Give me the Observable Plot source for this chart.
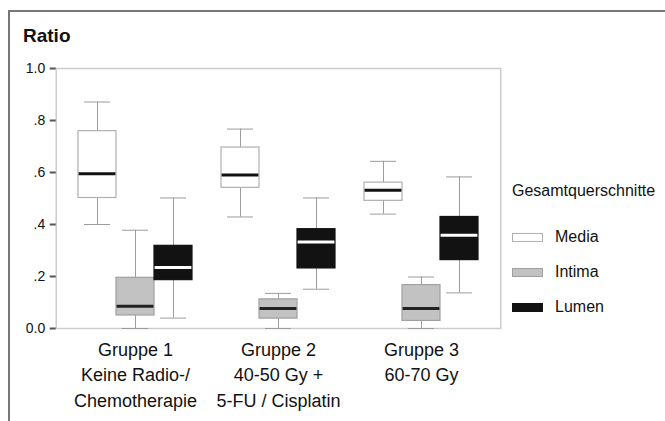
<!DOCTYPE html>
<html>
<head>
<meta charset="utf-8">
<script src="https://cdn.jsdelivr.net/npm/d3@7"></script>
<script src="https://cdn.jsdelivr.net/npm/@observablehq/plot@0.6"></script>
<style>
  body { margin: 0; background: #fff; }
  #wrap { position: relative; width: 665px; height: 421px; overflow: hidden; background: #fff;
          font-family: "Liberation Sans", Arial, sans-serif; color: #111; }
  #outer { position: absolute; left: 8px; top: 10px; right: -10px; bottom: -10px;
           border-top: 2px solid #777; border-left: 2px solid #777; }
  #chart { position: absolute; left: 0; top: 0; }
  .t { position: absolute; line-height: 1; white-space: nowrap; }
  .sw { position: absolute; width: 31px; height: 9px; box-sizing: border-box; }
</style>
</head>
<body>
<div id="wrap">
  <div id="outer"></div>
  <div id="chart"></div>
  <div class="t" style="left:23px;top:25.5px;font-weight:bold;font-size:19px;">Ratio</div>
  <div id="legend"></div>
</div>
<script>
// ---- data ----
const groups = ["Gruppe 1", "Gruppe 2", "Gruppe 3"];
const groupLabels = ["Gruppe 1\nKeine Radio-/\nChemotherapie", "Gruppe 2\n40-50 Gy +\n5-FU / Cisplatin", "Gruppe 3\n60-70 Gy"];
const series = ["Media", "Intima", "Lumen"];
const legendTitle = "Gesamtquerschnitte";
// per group: [lower whisker, Q1, median, Q3, upper whisker]
const media  = [[0.40, 0.502, 0.595, 0.759, 0.871], [0.429, 0.541, 0.590, 0.696, 0.767], [0.44, 0.491, 0.532, 0.561, 0.643]];
const intima = [[0.00, 0.050, 0.086, 0.195, 0.378], [0.00, 0.038, 0.077, 0.112, 0.135], [0.00, 0.029, 0.077, 0.167, 0.198]];
const lumen  = [[0.04, 0.186, 0.235, 0.318, 0.502], [0.151, 0.231, 0.333, 0.382, 0.502], [0.137, 0.263, 0.359, 0.429, 0.583]];
const yTicks = [0, 0.2, 0.4, 0.6, 0.8, 1.0];
const yTickLabels = ["0.0", ".2", ".4", ".6", ".8", "1.0"];

// ---- styles / layout ----
const boxFill   = {Media: "#ffffff", Intima: "#c2c2c2", Lumen: "#121212"};
const boxStroke = {Media: "#b0b0b0", Intima: "#a0a0a0", Lumen: "#121212"};
const medStroke = {Media: "#111111", Intima: "#222222", Lumen: "#ffffff"};
const W = 665, H = 421, mL = 55, mR = 163, mT = 68, mB = 93;
const padIn = 0.2, padOut = 0.155;
const fxStep = (W - mL - mR) / (groups.length - padIn + 2 * padOut);
const outerPad = fxStep * padOut; // gap between the frame edge and the first/last facet

const statsBySeries = {Media: media, Intima: intima, Lumen: lumen};
const rows = [];
series.forEach(s => groups.forEach((g, i) => {
  const [low, q1, med, q3, high] = statsBySeries[s][i];
  rows.push({group: g, series: s, low, q1, med, q3, high});
}));

const boxMarks = series.flatMap(s => {
  const d = rows.filter(r => r.series === s);
  return [
    Plot.ruleX(d, {fx: "group", x: "series", y1: "low", y2: "high", stroke: "#9c9c9c", strokeWidth: 1}),
    Plot.tickY(d, {fx: "group", x: "series", y: "high", stroke: "#9c9c9c", strokeWidth: 1, insetLeft: 6, insetRight: 6}),
    Plot.tickY(d, {fx: "group", x: "series", y: "low", stroke: "#9c9c9c", strokeWidth: 1, insetLeft: 6, insetRight: 6}),
    Plot.barY(d, {fx: "group", x: "series", y1: "q1", y2: "q3", fill: boxFill[s], stroke: boxStroke[s], strokeWidth: 1.2}),
    Plot.tickY(d, {fx: "group", x: "series", y: "med", stroke: medStroke[s], strokeWidth: 3, insetLeft: 0.6, insetRight: 0.6})
  ];
});

const chart = Plot.plot({
  width: W,
  height: H,
  marginTop: mT,
  marginBottom: mB,
  marginLeft: mL,
  marginRight: mR,
  style: {fontFamily: "'Liberation Sans', Arial, sans-serif", color: "#111", background: "transparent"},
  fx: {domain: groups, paddingInner: padIn, paddingOuter: padOut, label: null},
  x: {domain: series, padding: 0, axis: null},
  y: {domain: [0, 1], axis: null},
  marks: [
    Plot.frame({facet: "super", stroke: "#cccccc", strokeWidth: 1.5, insetLeft: -outerPad, insetRight: -outerPad}),
    ...boxMarks,
    Plot.axisY({ticks: yTicks, tickFormat: v => yTickLabels[yTicks.indexOf(v)] ?? "",
      tickSize: 6, tickPadding: 5, fontSize: 14, stroke: "#555", strokeWidth: 2, label: null, dx: -outerPad}),
    Plot.axisFx({anchor: "bottom", tickFormat: g => groupLabels[groups.indexOf(g)], tickSize: 0, tickPadding: 9,
      fontSize: 18, lineHeight: 1.42, label: null})
  ]
});
document.getElementById("chart").appendChild(chart);

// ---- legend ----
const legend = document.getElementById("legend");
const lt = document.createElement("div");
lt.className = "t"; lt.style.cssText = "left:512px;top:182.5px;font-size:16px;";
lt.textContent = legendTitle;
legend.appendChild(lt);
series.forEach((s, i) => {
  const top = 233 + i * 35;
  const sw = document.createElement("div");
  sw.className = "sw";
  sw.style.cssText = `left:512px;top:${top}px;background:${boxFill[s]};border:1px solid ${boxStroke[s]};`;
  legend.appendChild(sw);
  const tx = document.createElement("div");
  tx.className = "t";
  tx.style.cssText = `left:555px;top:${top - 4}px;font-size:16px;`;
  tx.textContent = s;
  legend.appendChild(tx);
});
</script>
</body>
</html>
